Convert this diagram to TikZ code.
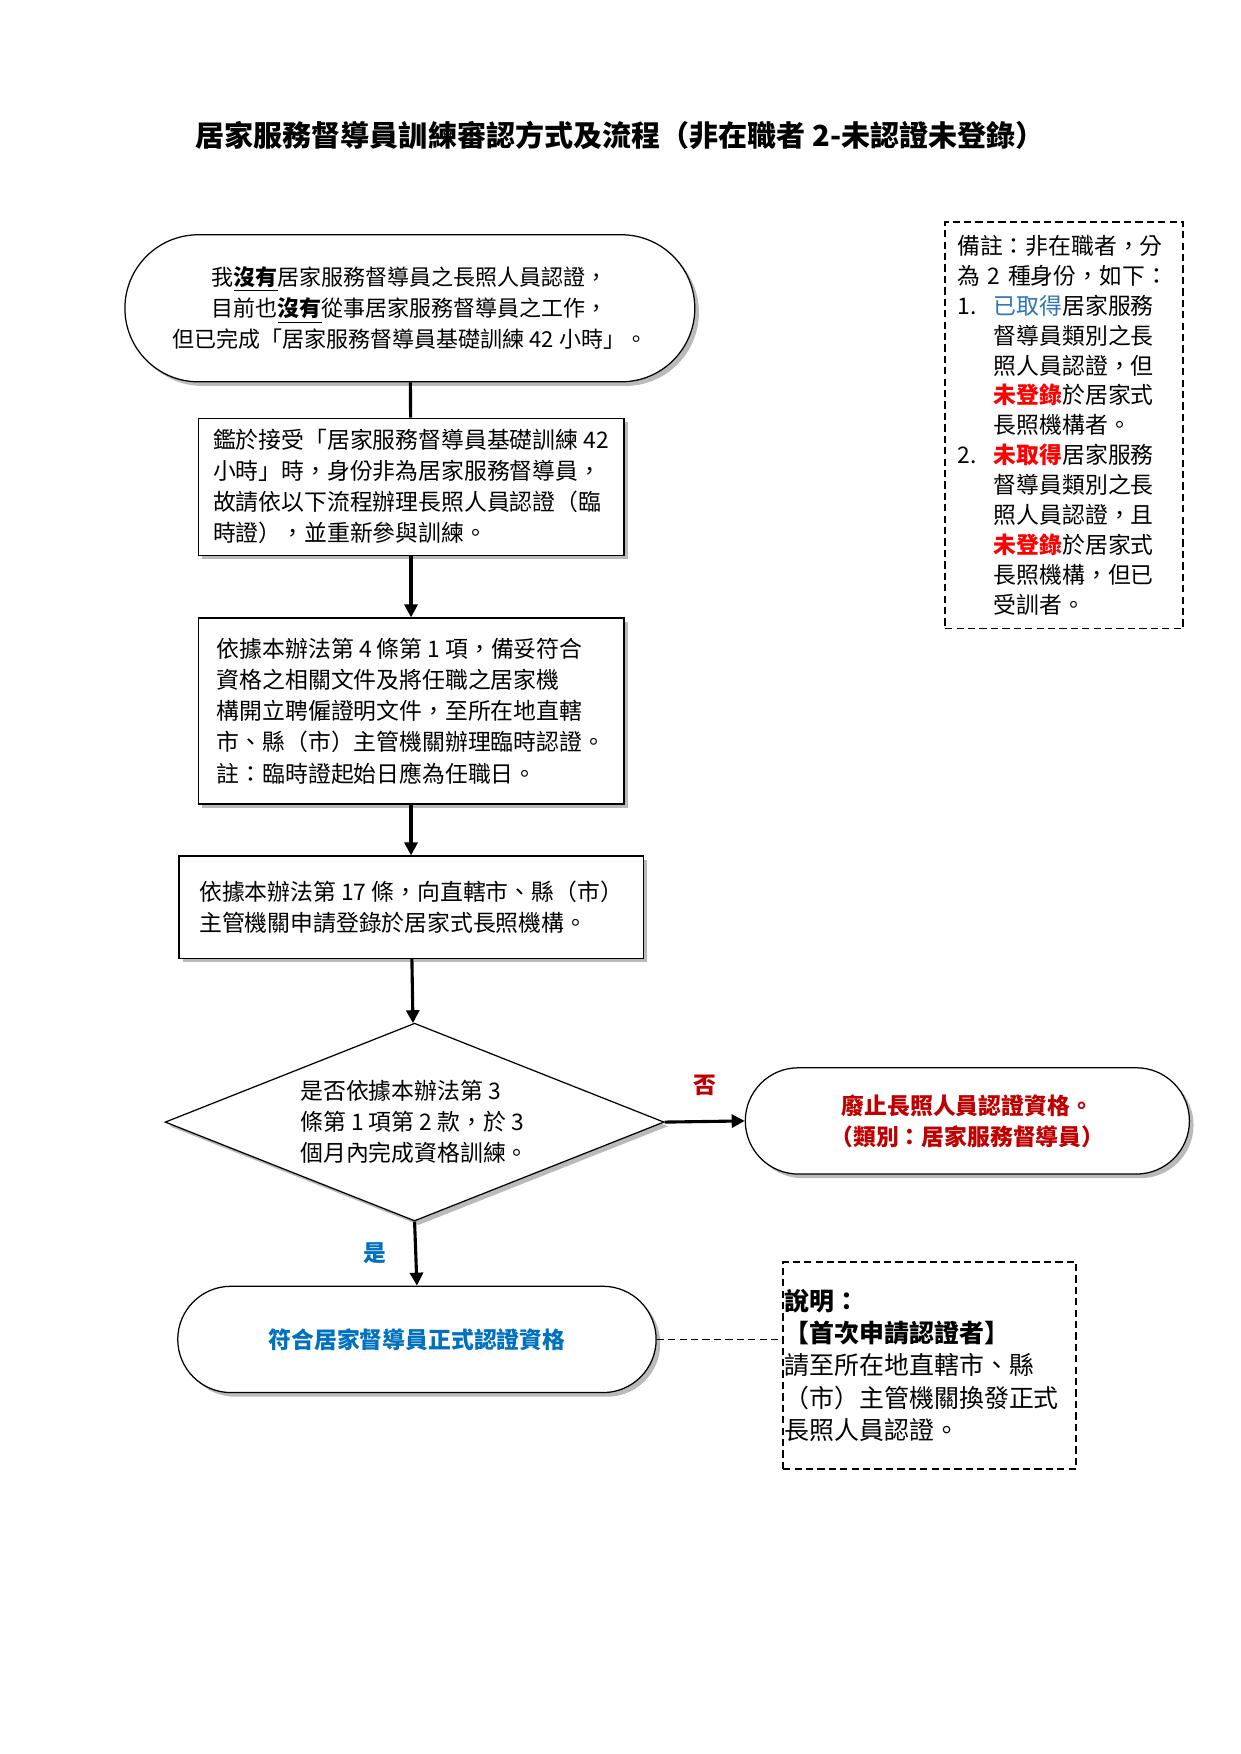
\documentclass[tikz,border=0pt]{standalone}
\usepackage{fontspec}
\setmainfont{Noto Sans CJK TC}
\usepackage{xcolor}
\usetikzlibrary{arrows.meta, shapes.geometric, shapes.misc, shadows}

\definecolor{hasblue}{HTML}{2E75B6}
\definecolor{okblue}{HTML}{0070C0}
\definecolor{notred}{HTML}{FF0000}
\definecolor{stopred}{HTML}{C00000}

\begin{document}
\begin{tikzpicture}[>={Triangle[length=2.2mm, width=2.2mm]}, every node/.style={font=\fontsize{11}{15}\selectfont},
    shade/.style={drop shadow={shadow xshift=0.7mm, shadow yshift=-0.7mm, opacity=0.45, fill=black!60}},
    procbox/.style={draw, line width=0.6pt, fill=white, align=left, inner sep=0pt, shade},
    termnode/.style={draw, line width=0.6pt, fill=white, rounded rectangle, align=center, inner sep=0pt, shade},
    decision/.style={draw, line width=0.6pt, fill=white, diamond, aspect=2.52, align=left, inner sep=0pt, shade},
    notebox/.style={draw, line width=0.8pt, dash pattern=on 3.5pt off 2pt, align=left, inner sep=0pt},
    flow/.style={line width=1.5pt}]
  \useasboundingbox (0,0) rectangle (21,-29.7);

  \node[font=\fontsize{14}{17}\selectfont\bfseries] (title) at (10.5,-2.30) {居家服務督導員訓練審認方式及流程（非在職者 2-未認證未登錄）};

  % main flow
  \node[termnode, minimum width=9.65cm, minimum height=2.49cm, font=\fontsize{10.6}{15}\selectfont] (start) at (6.94,-5.22) {我\underline{\textbf{沒有}}居家服務督導員之長照人員認證，\\目前也\underline{\textbf{沒有}}從事居家服務督導員之工作，\\但已完成「居家服務督導員基礎訓練 42 小時」。};
  \node[procbox, minimum width=7.21cm, minimum height=2.32cm] (notice) at (6.96,-8.24) {鑑於接受「居家服務督導員基礎訓練 42\\小時」時，身份非為居家服務督導員，\\故請依以下流程辦理長照人員認證（臨\\時證），並重新參與訓練。};
  \node[procbox, minimum width=7.21cm, minimum height=3.15cm] (tempcert) at (6.96,-12.04) {依據本辦法第 4 條第 1 項，備妥符合\\資格之相關文件及將任職之居家機\\構開立聘僱證明文件，至所在地直轄\\市、縣（市）主管機關辦理臨時認證。\\註：臨時證起始日應為任職日。};
  \node[procbox, minimum width=7.86cm, minimum height=1.73cm] (register) at (6.96,-15.36) {依據本辦法第 17 條，向直轄市、縣（市）\\主管機關申請登錄於居家式長照機構。};
  \node[decision, minimum width=8.45cm, minimum height=3.35cm] (check) at (7.02,-19.0) {是否依據本辦法第 3\\條第 1 項第 2 款，於 3\\個月內完成資格訓練。};
  \node[termnode, minimum width=7.52cm, minimum height=1.80cm, text=stopred, font=\fontsize{11}{15}\selectfont\bfseries] (revoke) at (16.38,-18.98) {廢止長照人員認證資格。\\（類別：居家服務督導員）};
  \node[termnode, minimum width=8.10cm, minimum height=1.80cm, text=okblue, font=\fontsize{11}{15}\selectfont\bfseries] (formal) at (7.06,-22.68) {符合居家督導員正式認證資格};

  % side notes
  \node[notebox, minimum width=4.03cm, minimum height=6.88cm, text width=3.62cm, font=\fontsize{11}{14.4}\selectfont] (remark) at (18.02,-7.20) {備註：非在職者，分\\為~2~種身份，如下：\\\makebox[0.62cm][l]{1.}\textcolor{hasblue}{已取得}居家服務\\\hspace*{0.62cm}督導員類別之長\\\hspace*{0.62cm}照人員認證，但\\\hspace*{0.62cm}\textcolor{notred}{\textbf{未登錄}}於居家式\\\hspace*{0.62cm}長照機構者。\\\makebox[0.62cm][l]{2.}\textcolor{notred}{\textbf{未取得}}居家服務\\\hspace*{0.62cm}督導員類別之長\\\hspace*{0.62cm}照人員認證，且\\\hspace*{0.62cm}\textcolor{notred}{\textbf{未登錄}}於居家式\\\hspace*{0.62cm}長照機構，但已\\\hspace*{0.62cm}受訓者。};
  \node[notebox, minimum width=4.96cm, minimum height=3.51cm, text width=4.9cm, font=\fontsize{12}{15.5}\selectfont] (explain) at (15.74,-23.12) {\textbf{說明：}\\\textbf{【首次申請認證者】}\\請至所在地直轄市、縣\\（市）主管機關換發正式\\長照人員認證。};

  % connectors
  \draw[flow] (start) -- (notice);
  \draw[flow, ->] (notice) -- (tempcert);
  \draw[flow, ->] (tempcert) -- (register);
  \draw[flow, ->] (register) -- (check);
  \draw[flow, ->] (check.east) -- (revoke.west) node[midway, above=0.3cm, text=stopred, font=\fontsize{11}{15}\selectfont\bfseries] (nolabel) {否};
  \draw[flow, ->] (check.south) -- (formal.north) node[midway, left=0.35cm, text=okblue, font=\fontsize{11}{15}\selectfont\bfseries] (yeslabel) {是};
  \draw[line width=0.8pt, dash pattern=on 3.5pt off 2pt] (formal.east) -- (formal.east -| explain.west);
\end{tikzpicture}
\end{document}
